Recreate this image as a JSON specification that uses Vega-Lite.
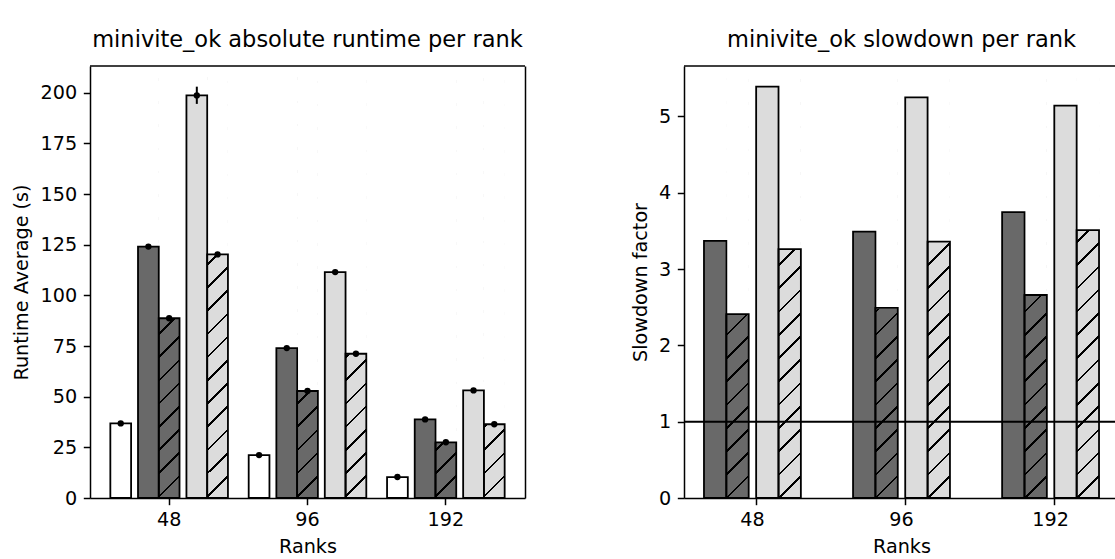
{
"$schema":"https://vega.github.io/schema/vega-lite/v6.json",
"datasets":{
"runtime":[
{"rank":"48","series":"base","runtime":36.8,"lo":36.4,"hi":37.2},
{"rank":"48","series":"dark","runtime":124.1,"lo":123.7,"hi":124.5},
{"rank":"48","series":"darkH","runtime":88.7,"lo":88.3,"hi":89.1},
{"rank":"48","series":"light","runtime":198.7,"lo":194.5,"hi":203.0},
{"rank":"48","series":"lightH","runtime":120.2,"lo":119.8,"hi":120.6},
{"rank":"96","series":"base","runtime":21.2,"lo":20.8,"hi":21.6},
{"rank":"96","series":"dark","runtime":74.0,"lo":73.6,"hi":74.4},
{"rank":"96","series":"darkH","runtime":52.8,"lo":52.4,"hi":53.2},
{"rank":"96","series":"light","runtime":111.5,"lo":111.1,"hi":111.9},
{"rank":"96","series":"lightH","runtime":71.2,"lo":70.8,"hi":71.6},
{"rank":"192","series":"base","runtime":10.35,"lo":10.0,"hi":10.7},
{"rank":"192","series":"dark","runtime":38.8,"lo":38.4,"hi":39.2},
{"rank":"192","series":"darkH","runtime":27.5,"lo":27.1,"hi":27.9},
{"rank":"192","series":"light","runtime":53.1,"lo":52.7,"hi":53.5},
{"rank":"192","series":"lightH","runtime":36.4,"lo":36.0,"hi":36.8}
],
"slowdown":[
{"rank":"48","series":"dark","slowdown":3.37},
{"rank":"48","series":"darkH","slowdown":2.41},
{"rank":"48","series":"light","slowdown":5.39},
{"rank":"48","series":"lightH","slowdown":3.26},
{"rank":"96","series":"dark","slowdown":3.49},
{"rank":"96","series":"darkH","slowdown":2.49},
{"rank":"96","series":"light","slowdown":5.25},
{"rank":"96","series":"lightH","slowdown":3.36},
{"rank":"192","series":"dark","slowdown":3.745},
{"rank":"192","series":"darkH","slowdown":2.66},
{"rank":"192","series":"light","slowdown":5.14},
{"rank":"192","series":"lightH","slowdown":3.51}
]
},
"spacing":159,
"bounds":"flush",
"padding":{"left":12,"top":28,"right":0,"bottom":0},
"hconcat":[
{
"width":435,"height":432,
"title":{"text":"minivite_ok absolute runtime per rank"},
"resolve":{"axis":{"y":"independent"}},
"layer":[
{
"data":{"name":"runtime"},
"encoding":{
"x":{"field":"rank","type":"ordinal","sort":["48","96","192"],"scale":{"paddingInner":0.15,"paddingOuter":0.147},"axis":{"title":"Ranks","labelAngle":0,"domain":true,"domainColor":"black","domainWidth":1.5}},
"y":{"field":"runtime","type":"quantitative","title":"Runtime Average (s)","scale":{"domain":[0,213.2],"nice":false},"axis":{"values":[0,25,50,75,100,125,150,175,200],"domain":true,"domainColor":"black","domainWidth":1.5}}
},
"resolve":{"scale":{"xOffset":"independent"}},
"layer":[
{"transform":[{"filter":"datum.series === 'base'"}],
 "encoding":{"xOffset":{"field":"series","scale":{"domain":["base","_1","_2","_3","_4"],"paddingInner":0,"paddingOuter":0.3333,"align":0}}},
 "layer":[
  {"mark":{"type":"bar","fill":"white","stroke":"black","strokeWidth":1.8}},
  {"mark":{"type":"rule","color":"black","strokeWidth":2},"encoding":{"y":{"field":"lo","type":"quantitative","title":"Runtime Average (s)"},"y2":{"field":"hi"}}},
  {"mark":{"type":"point","filled":true,"color":"black","size":40,"opacity":1}}
 ]},
{"transform":[{"filter":"datum.series === 'dark' || datum.series === 'darkH'"}],
 "encoding":{"xOffset":{"field":"series","scale":{"domain":["_a","dark","darkH","_b","_c"],"paddingInner":0,"paddingOuter":0.3333,"align":0.5}}},
 "layer":[
  {"mark":{"type":"bar","fill":"#696969","strokeWidth":0}},
  {"transform":[{"filter":"datum.series === 'darkH'"}],"mark":{"type":"bar","strokeWidth":0,"fill":{"gradient":"linear","x1":0,"y1":0,"x2":0.0504,"y2":1.0458,"stops":[
{"offset":0,"color":"rgba(0,0,0,0)"},
{"offset":0.0228,"color":"rgba(0,0,0,0)"},{"offset":0.0228,"color":"black"},{"offset":0.0286,"color":"black"},{"offset":0.0286,"color":"rgba(0,0,0,0)"},
{"offset":0.0742,"color":"rgba(0,0,0,0)"},{"offset":0.0742,"color":"black"},{"offset":0.0800,"color":"black"},{"offset":0.0800,"color":"rgba(0,0,0,0)"},
{"offset":0.1256,"color":"rgba(0,0,0,0)"},{"offset":0.1256,"color":"black"},{"offset":0.1314,"color":"black"},{"offset":0.1314,"color":"rgba(0,0,0,0)"},
{"offset":0.1770,"color":"rgba(0,0,0,0)"},{"offset":0.1770,"color":"black"},{"offset":0.1828,"color":"black"},{"offset":0.1828,"color":"rgba(0,0,0,0)"},
{"offset":0.2285,"color":"rgba(0,0,0,0)"},{"offset":0.2285,"color":"black"},{"offset":0.2343,"color":"black"},{"offset":0.2343,"color":"rgba(0,0,0,0)"},
{"offset":0.2799,"color":"rgba(0,0,0,0)"},{"offset":0.2799,"color":"black"},{"offset":0.2857,"color":"black"},{"offset":0.2857,"color":"rgba(0,0,0,0)"},
{"offset":0.3313,"color":"rgba(0,0,0,0)"},{"offset":0.3313,"color":"black"},{"offset":0.3371,"color":"black"},{"offset":0.3371,"color":"rgba(0,0,0,0)"},
{"offset":0.3827,"color":"rgba(0,0,0,0)"},{"offset":0.3827,"color":"black"},{"offset":0.3885,"color":"black"},{"offset":0.3885,"color":"rgba(0,0,0,0)"},
{"offset":0.4341,"color":"rgba(0,0,0,0)"},{"offset":0.4341,"color":"black"},{"offset":0.4399,"color":"black"},{"offset":0.4399,"color":"rgba(0,0,0,0)"},
{"offset":0.4855,"color":"rgba(0,0,0,0)"},{"offset":0.4855,"color":"black"},{"offset":0.4913,"color":"black"},{"offset":0.4913,"color":"rgba(0,0,0,0)"},
{"offset":0.5369,"color":"rgba(0,0,0,0)"},{"offset":0.5369,"color":"black"},{"offset":0.5427,"color":"black"},{"offset":0.5427,"color":"rgba(0,0,0,0)"},
{"offset":0.5883,"color":"rgba(0,0,0,0)"},{"offset":0.5883,"color":"black"},{"offset":0.5941,"color":"black"},{"offset":0.5941,"color":"rgba(0,0,0,0)"},
{"offset":0.6397,"color":"rgba(0,0,0,0)"},{"offset":0.6397,"color":"black"},{"offset":0.6455,"color":"black"},{"offset":0.6455,"color":"rgba(0,0,0,0)"},
{"offset":0.6911,"color":"rgba(0,0,0,0)"},{"offset":0.6911,"color":"black"},{"offset":0.6969,"color":"black"},{"offset":0.6969,"color":"rgba(0,0,0,0)"},
{"offset":0.7426,"color":"rgba(0,0,0,0)"},{"offset":0.7426,"color":"black"},{"offset":0.7484,"color":"black"},{"offset":0.7484,"color":"rgba(0,0,0,0)"},
{"offset":0.7940,"color":"rgba(0,0,0,0)"},{"offset":0.7940,"color":"black"},{"offset":0.7998,"color":"black"},{"offset":0.7998,"color":"rgba(0,0,0,0)"},
{"offset":0.8454,"color":"rgba(0,0,0,0)"},{"offset":0.8454,"color":"black"},{"offset":0.8512,"color":"black"},{"offset":0.8512,"color":"rgba(0,0,0,0)"},
{"offset":0.8968,"color":"rgba(0,0,0,0)"},{"offset":0.8968,"color":"black"},{"offset":0.9026,"color":"black"},{"offset":0.9026,"color":"rgba(0,0,0,0)"},
{"offset":0.9482,"color":"rgba(0,0,0,0)"},{"offset":0.9482,"color":"black"},{"offset":0.9540,"color":"black"},{"offset":0.9540,"color":"rgba(0,0,0,0)"},
{"offset":1,"color":"rgba(0,0,0,0)"}
]}},"encoding":{"y":{"datum":212.46},"y2":{"datum":0}}},
  {"transform":[{"filter":"datum.series === 'darkH'"}],"mark":{"type":"bar","fill":"white","stroke":"white","strokeWidth":1.2},"encoding":{"y2":{"datum":212.46}}}
 ]},
{"transform":[{"filter":"datum.series === 'light' || datum.series === 'lightH'"}],
 "encoding":{"xOffset":{"field":"series","scale":{"domain":["_a","_b","_c","light","lightH"],"paddingInner":0,"paddingOuter":0.3333,"align":1}}},
 "layer":[
  {"mark":{"type":"bar","fill":"#dcdcdc","strokeWidth":0}},
  {"transform":[{"filter":"datum.series === 'lightH'"}],"mark":{"type":"bar","strokeWidth":0,"fill":{"gradient":"linear","x1":0,"y1":0,"x2":0.0504,"y2":1.0458,"stops":[
{"offset":0,"color":"rgba(0,0,0,0)"},
{"offset":0.0228,"color":"rgba(0,0,0,0)"},{"offset":0.0228,"color":"black"},{"offset":0.0286,"color":"black"},{"offset":0.0286,"color":"rgba(0,0,0,0)"},
{"offset":0.0742,"color":"rgba(0,0,0,0)"},{"offset":0.0742,"color":"black"},{"offset":0.0800,"color":"black"},{"offset":0.0800,"color":"rgba(0,0,0,0)"},
{"offset":0.1256,"color":"rgba(0,0,0,0)"},{"offset":0.1256,"color":"black"},{"offset":0.1314,"color":"black"},{"offset":0.1314,"color":"rgba(0,0,0,0)"},
{"offset":0.1770,"color":"rgba(0,0,0,0)"},{"offset":0.1770,"color":"black"},{"offset":0.1828,"color":"black"},{"offset":0.1828,"color":"rgba(0,0,0,0)"},
{"offset":0.2285,"color":"rgba(0,0,0,0)"},{"offset":0.2285,"color":"black"},{"offset":0.2343,"color":"black"},{"offset":0.2343,"color":"rgba(0,0,0,0)"},
{"offset":0.2799,"color":"rgba(0,0,0,0)"},{"offset":0.2799,"color":"black"},{"offset":0.2857,"color":"black"},{"offset":0.2857,"color":"rgba(0,0,0,0)"},
{"offset":0.3313,"color":"rgba(0,0,0,0)"},{"offset":0.3313,"color":"black"},{"offset":0.3371,"color":"black"},{"offset":0.3371,"color":"rgba(0,0,0,0)"},
{"offset":0.3827,"color":"rgba(0,0,0,0)"},{"offset":0.3827,"color":"black"},{"offset":0.3885,"color":"black"},{"offset":0.3885,"color":"rgba(0,0,0,0)"},
{"offset":0.4341,"color":"rgba(0,0,0,0)"},{"offset":0.4341,"color":"black"},{"offset":0.4399,"color":"black"},{"offset":0.4399,"color":"rgba(0,0,0,0)"},
{"offset":0.4855,"color":"rgba(0,0,0,0)"},{"offset":0.4855,"color":"black"},{"offset":0.4913,"color":"black"},{"offset":0.4913,"color":"rgba(0,0,0,0)"},
{"offset":0.5369,"color":"rgba(0,0,0,0)"},{"offset":0.5369,"color":"black"},{"offset":0.5427,"color":"black"},{"offset":0.5427,"color":"rgba(0,0,0,0)"},
{"offset":0.5883,"color":"rgba(0,0,0,0)"},{"offset":0.5883,"color":"black"},{"offset":0.5941,"color":"black"},{"offset":0.5941,"color":"rgba(0,0,0,0)"},
{"offset":0.6397,"color":"rgba(0,0,0,0)"},{"offset":0.6397,"color":"black"},{"offset":0.6455,"color":"black"},{"offset":0.6455,"color":"rgba(0,0,0,0)"},
{"offset":0.6911,"color":"rgba(0,0,0,0)"},{"offset":0.6911,"color":"black"},{"offset":0.6969,"color":"black"},{"offset":0.6969,"color":"rgba(0,0,0,0)"},
{"offset":0.7426,"color":"rgba(0,0,0,0)"},{"offset":0.7426,"color":"black"},{"offset":0.7484,"color":"black"},{"offset":0.7484,"color":"rgba(0,0,0,0)"},
{"offset":0.7940,"color":"rgba(0,0,0,0)"},{"offset":0.7940,"color":"black"},{"offset":0.7998,"color":"black"},{"offset":0.7998,"color":"rgba(0,0,0,0)"},
{"offset":0.8454,"color":"rgba(0,0,0,0)"},{"offset":0.8454,"color":"black"},{"offset":0.8512,"color":"black"},{"offset":0.8512,"color":"rgba(0,0,0,0)"},
{"offset":0.8968,"color":"rgba(0,0,0,0)"},{"offset":0.8968,"color":"black"},{"offset":0.9026,"color":"black"},{"offset":0.9026,"color":"rgba(0,0,0,0)"},
{"offset":0.9482,"color":"rgba(0,0,0,0)"},{"offset":0.9482,"color":"black"},{"offset":0.9540,"color":"black"},{"offset":0.9540,"color":"rgba(0,0,0,0)"},
{"offset":1,"color":"rgba(0,0,0,0)"}
]}},"encoding":{"y":{"datum":212.46},"y2":{"datum":0}}},
  {"transform":[{"filter":"datum.series === 'lightH'"}],"mark":{"type":"bar","fill":"white","stroke":"white","strokeWidth":1.2},"encoding":{"y2":{"datum":212.46}}}
 ]},
{"transform":[{"filter":"datum.series === 'dark' || datum.series === 'darkH'"}],
 "encoding":{"xOffset":{"field":"series","scale":{"domain":["_a","dark","darkH","_b","_c"],"paddingInner":0,"paddingOuter":0.3333,"align":0.5}}},
 "layer":[
  {"mark":{"type":"bar","fill":"transparent","stroke":"black","strokeWidth":1.8}},
  {"mark":{"type":"rule","color":"black","strokeWidth":2},"encoding":{"y":{"field":"lo","type":"quantitative","title":"Runtime Average (s)"},"y2":{"field":"hi"}}},
  {"mark":{"type":"point","filled":true,"color":"black","size":40,"opacity":1}}
 ]},
{"transform":[{"filter":"datum.series === 'light' || datum.series === 'lightH'"}],
 "encoding":{"xOffset":{"field":"series","scale":{"domain":["_a","_b","_c","light","lightH"],"paddingInner":0,"paddingOuter":0.3333,"align":1}}},
 "layer":[
  {"mark":{"type":"bar","fill":"transparent","stroke":"black","strokeWidth":1.8}},
  {"mark":{"type":"rule","color":"black","strokeWidth":2},"encoding":{"y":{"field":"lo","type":"quantitative","title":"Runtime Average (s)"},"y2":{"field":"hi"}}},
  {"mark":{"type":"point","filled":true,"color":"black","size":40,"opacity":1}}
 ]}
]
},
{"data":{"values":[{"edge":"top"}]},
 "mark":{"type":"rule","color":"black","strokeWidth":1.5},
 "encoding":{"y":{"datum":213.2,"axis":{"orient":"right","labels":false,"ticks":false,"title":null,"domain":true,"domainColor":"black","domainWidth":1.5}}}}
]
},
{
"width":431,"height":432,
"title":{"text":"minivite_ok slowdown per rank","anchor":"middle","dx":2},
"layer":[
{"data":{"name":"slowdown"},
"encoding":{
"x":{"field":"rank","type":"ordinal","sort":["48","96","192"],"scale":{"paddingInner":0.35,"paddingOuter":0.1206,"align":0.5556},"axis":{"title":"Ranks","labelAngle":0,"bandPosition":0.5385,"titleX":217.5,"titleAnchor":"middle","domain":true,"domainColor":"black","domainWidth":1.5}},
"y":{"field":"slowdown","type":"quantitative","title":"Slowdown factor","scale":{"domain":[0,5.66],"nice":false},"axis":{"orient":"left","values":[0,1,2,3,4,5],"format":"d","domain":true,"domainColor":"black","domainWidth":1.5}}
},
"resolve":{"scale":{"xOffset":"independent"}},
"layer":[
{"transform":[{"filter":"datum.series === 'dark' || datum.series === 'darkH'"}],
 "encoding":{"xOffset":{"field":"series","scale":{"domain":["dark","darkH","_b","_c"],"paddingInner":0,"paddingOuter":0.1667,"align":0}}},
 "layer":[
  {"mark":{"type":"bar","fill":"#696969","strokeWidth":0}},
  {"transform":[{"filter":"datum.series === 'darkH'"}],"mark":{"type":"bar","strokeWidth":0,"fill":{"gradient":"linear","x1":0,"y1":0,"x2":0.0545,"y2":1.0491,"stops":[
{"offset":0,"color":"rgba(0,0,0,0)"},
{"offset":0.0228,"color":"rgba(0,0,0,0)"},{"offset":0.0228,"color":"black"},{"offset":0.0286,"color":"black"},{"offset":0.0286,"color":"rgba(0,0,0,0)"},
{"offset":0.0742,"color":"rgba(0,0,0,0)"},{"offset":0.0742,"color":"black"},{"offset":0.0800,"color":"black"},{"offset":0.0800,"color":"rgba(0,0,0,0)"},
{"offset":0.1256,"color":"rgba(0,0,0,0)"},{"offset":0.1256,"color":"black"},{"offset":0.1314,"color":"black"},{"offset":0.1314,"color":"rgba(0,0,0,0)"},
{"offset":0.1770,"color":"rgba(0,0,0,0)"},{"offset":0.1770,"color":"black"},{"offset":0.1828,"color":"black"},{"offset":0.1828,"color":"rgba(0,0,0,0)"},
{"offset":0.2285,"color":"rgba(0,0,0,0)"},{"offset":0.2285,"color":"black"},{"offset":0.2343,"color":"black"},{"offset":0.2343,"color":"rgba(0,0,0,0)"},
{"offset":0.2799,"color":"rgba(0,0,0,0)"},{"offset":0.2799,"color":"black"},{"offset":0.2857,"color":"black"},{"offset":0.2857,"color":"rgba(0,0,0,0)"},
{"offset":0.3313,"color":"rgba(0,0,0,0)"},{"offset":0.3313,"color":"black"},{"offset":0.3371,"color":"black"},{"offset":0.3371,"color":"rgba(0,0,0,0)"},
{"offset":0.3827,"color":"rgba(0,0,0,0)"},{"offset":0.3827,"color":"black"},{"offset":0.3885,"color":"black"},{"offset":0.3885,"color":"rgba(0,0,0,0)"},
{"offset":0.4341,"color":"rgba(0,0,0,0)"},{"offset":0.4341,"color":"black"},{"offset":0.4399,"color":"black"},{"offset":0.4399,"color":"rgba(0,0,0,0)"},
{"offset":0.4855,"color":"rgba(0,0,0,0)"},{"offset":0.4855,"color":"black"},{"offset":0.4913,"color":"black"},{"offset":0.4913,"color":"rgba(0,0,0,0)"},
{"offset":0.5369,"color":"rgba(0,0,0,0)"},{"offset":0.5369,"color":"black"},{"offset":0.5427,"color":"black"},{"offset":0.5427,"color":"rgba(0,0,0,0)"},
{"offset":0.5883,"color":"rgba(0,0,0,0)"},{"offset":0.5883,"color":"black"},{"offset":0.5941,"color":"black"},{"offset":0.5941,"color":"rgba(0,0,0,0)"},
{"offset":0.6397,"color":"rgba(0,0,0,0)"},{"offset":0.6397,"color":"black"},{"offset":0.6455,"color":"black"},{"offset":0.6455,"color":"rgba(0,0,0,0)"},
{"offset":0.6911,"color":"rgba(0,0,0,0)"},{"offset":0.6911,"color":"black"},{"offset":0.6969,"color":"black"},{"offset":0.6969,"color":"rgba(0,0,0,0)"},
{"offset":0.7426,"color":"rgba(0,0,0,0)"},{"offset":0.7426,"color":"black"},{"offset":0.7484,"color":"black"},{"offset":0.7484,"color":"rgba(0,0,0,0)"},
{"offset":0.7940,"color":"rgba(0,0,0,0)"},{"offset":0.7940,"color":"black"},{"offset":0.7998,"color":"black"},{"offset":0.7998,"color":"rgba(0,0,0,0)"},
{"offset":0.8454,"color":"rgba(0,0,0,0)"},{"offset":0.8454,"color":"black"},{"offset":0.8512,"color":"black"},{"offset":0.8512,"color":"rgba(0,0,0,0)"},
{"offset":0.8968,"color":"rgba(0,0,0,0)"},{"offset":0.8968,"color":"black"},{"offset":0.9026,"color":"black"},{"offset":0.9026,"color":"rgba(0,0,0,0)"},
{"offset":0.9482,"color":"rgba(0,0,0,0)"},{"offset":0.9482,"color":"black"},{"offset":0.9540,"color":"black"},{"offset":0.9540,"color":"rgba(0,0,0,0)"},
{"offset":1,"color":"rgba(0,0,0,0)"}
]}},"encoding":{"y":{"datum":5.64},"y2":{"datum":0}}},
  {"transform":[{"filter":"datum.series === 'darkH'"}],"mark":{"type":"bar","fill":"white","stroke":"white","strokeWidth":1.2},"encoding":{"y2":{"datum":5.64}}}
 ]},
{"transform":[{"filter":"datum.series === 'light' || datum.series === 'lightH'"}],
 "encoding":{"xOffset":{"field":"series","scale":{"domain":["_a","_b","light","lightH"],"paddingInner":0,"paddingOuter":0.1667,"align":1}}},
 "layer":[
  {"mark":{"type":"bar","fill":"#dcdcdc","strokeWidth":0}},
  {"transform":[{"filter":"datum.series === 'lightH'"}],"mark":{"type":"bar","strokeWidth":0,"fill":{"gradient":"linear","x1":0,"y1":0,"x2":0.0545,"y2":1.0491,"stops":[
{"offset":0,"color":"rgba(0,0,0,0)"},
{"offset":0.0228,"color":"rgba(0,0,0,0)"},{"offset":0.0228,"color":"black"},{"offset":0.0286,"color":"black"},{"offset":0.0286,"color":"rgba(0,0,0,0)"},
{"offset":0.0742,"color":"rgba(0,0,0,0)"},{"offset":0.0742,"color":"black"},{"offset":0.0800,"color":"black"},{"offset":0.0800,"color":"rgba(0,0,0,0)"},
{"offset":0.1256,"color":"rgba(0,0,0,0)"},{"offset":0.1256,"color":"black"},{"offset":0.1314,"color":"black"},{"offset":0.1314,"color":"rgba(0,0,0,0)"},
{"offset":0.1770,"color":"rgba(0,0,0,0)"},{"offset":0.1770,"color":"black"},{"offset":0.1828,"color":"black"},{"offset":0.1828,"color":"rgba(0,0,0,0)"},
{"offset":0.2285,"color":"rgba(0,0,0,0)"},{"offset":0.2285,"color":"black"},{"offset":0.2343,"color":"black"},{"offset":0.2343,"color":"rgba(0,0,0,0)"},
{"offset":0.2799,"color":"rgba(0,0,0,0)"},{"offset":0.2799,"color":"black"},{"offset":0.2857,"color":"black"},{"offset":0.2857,"color":"rgba(0,0,0,0)"},
{"offset":0.3313,"color":"rgba(0,0,0,0)"},{"offset":0.3313,"color":"black"},{"offset":0.3371,"color":"black"},{"offset":0.3371,"color":"rgba(0,0,0,0)"},
{"offset":0.3827,"color":"rgba(0,0,0,0)"},{"offset":0.3827,"color":"black"},{"offset":0.3885,"color":"black"},{"offset":0.3885,"color":"rgba(0,0,0,0)"},
{"offset":0.4341,"color":"rgba(0,0,0,0)"},{"offset":0.4341,"color":"black"},{"offset":0.4399,"color":"black"},{"offset":0.4399,"color":"rgba(0,0,0,0)"},
{"offset":0.4855,"color":"rgba(0,0,0,0)"},{"offset":0.4855,"color":"black"},{"offset":0.4913,"color":"black"},{"offset":0.4913,"color":"rgba(0,0,0,0)"},
{"offset":0.5369,"color":"rgba(0,0,0,0)"},{"offset":0.5369,"color":"black"},{"offset":0.5427,"color":"black"},{"offset":0.5427,"color":"rgba(0,0,0,0)"},
{"offset":0.5883,"color":"rgba(0,0,0,0)"},{"offset":0.5883,"color":"black"},{"offset":0.5941,"color":"black"},{"offset":0.5941,"color":"rgba(0,0,0,0)"},
{"offset":0.6397,"color":"rgba(0,0,0,0)"},{"offset":0.6397,"color":"black"},{"offset":0.6455,"color":"black"},{"offset":0.6455,"color":"rgba(0,0,0,0)"},
{"offset":0.6911,"color":"rgba(0,0,0,0)"},{"offset":0.6911,"color":"black"},{"offset":0.6969,"color":"black"},{"offset":0.6969,"color":"rgba(0,0,0,0)"},
{"offset":0.7426,"color":"rgba(0,0,0,0)"},{"offset":0.7426,"color":"black"},{"offset":0.7484,"color":"black"},{"offset":0.7484,"color":"rgba(0,0,0,0)"},
{"offset":0.7940,"color":"rgba(0,0,0,0)"},{"offset":0.7940,"color":"black"},{"offset":0.7998,"color":"black"},{"offset":0.7998,"color":"rgba(0,0,0,0)"},
{"offset":0.8454,"color":"rgba(0,0,0,0)"},{"offset":0.8454,"color":"black"},{"offset":0.8512,"color":"black"},{"offset":0.8512,"color":"rgba(0,0,0,0)"},
{"offset":0.8968,"color":"rgba(0,0,0,0)"},{"offset":0.8968,"color":"black"},{"offset":0.9026,"color":"black"},{"offset":0.9026,"color":"rgba(0,0,0,0)"},
{"offset":0.9482,"color":"rgba(0,0,0,0)"},{"offset":0.9482,"color":"black"},{"offset":0.9540,"color":"black"},{"offset":0.9540,"color":"rgba(0,0,0,0)"},
{"offset":1,"color":"rgba(0,0,0,0)"}
]}},"encoding":{"y":{"datum":5.64},"y2":{"datum":0}}},
  {"transform":[{"filter":"datum.series === 'lightH'"}],"mark":{"type":"bar","fill":"white","stroke":"white","strokeWidth":1.2},"encoding":{"y2":{"datum":5.64}}}
 ]},
{"transform":[{"filter":"datum.series === 'dark' || datum.series === 'darkH'"}],
 "encoding":{"xOffset":{"field":"series","scale":{"domain":["dark","darkH","_b","_c"],"paddingInner":0,"paddingOuter":0.1667,"align":0}}},
 "mark":{"type":"bar","fill":"transparent","stroke":"black","strokeWidth":1.8}},
{"transform":[{"filter":"datum.series === 'light' || datum.series === 'lightH'"}],
 "encoding":{"xOffset":{"field":"series","scale":{"domain":["_a","_b","light","lightH"],"paddingInner":0,"paddingOuter":0.1667,"align":1}}},
 "mark":{"type":"bar","fill":"transparent","stroke":"black","strokeWidth":1.8}}
]
},
{"data":{"values":[{"baseline":1}]},
 "layer":[
  {"mark":{"type":"rule","color":"black","strokeWidth":2},
   "encoding":{"y":{"field":"baseline","type":"quantitative","title":"Slowdown factor","axis":{"orient":"left","values":[0,1,2,3,4,5],"format":"d","domain":true,"domainColor":"black","domainWidth":1.5}}}},
  {"mark":{"type":"rule","color":"black","strokeWidth":1.5},
   "encoding":{"y":{"datum":5.66,"title":"Slowdown factor","axis":{"orient":"left","values":[0,1,2,3,4,5],"format":"d","domain":true,"domainColor":"black","domainWidth":1.5}}}}
 ]}
]
}
],
"config":{
"font":"DejaVu Sans",
"view":{"stroke":null},
"axis":{"labelFont":"DejaVu Sans","titleFont":"DejaVu Sans","labelFontSize":19.2,"titleFontSize":19.2,"titleFontWeight":"normal","labelColor":"black","titleColor":"black","tickColor":"black","tickSize":6.7,"tickWidth":1.5,"domain":false,"grid":false},
"axisY":{"labelPadding":6.7,"titlePadding":8.2},
"axisX":{"labelPadding":6.1,"titlePadding":7.8},
"title":{"font":"DejaVu Sans","fontSize":22.5,"fontWeight":"normal","color":"black","offset":14}
}
}
